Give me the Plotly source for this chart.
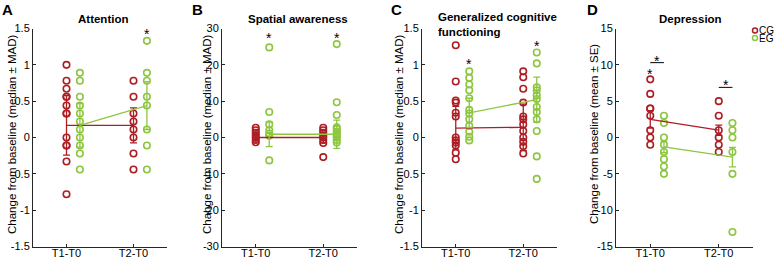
import plotly.graph_objects as go

W, H = 778, 259
CG_COLOR = "#AD1E24"
EG_COLOR = "#8DC63F"
FONT = "Liberation Sans, Arial, sans-serif"

categories = ["T1-T0", "T2-T0"]
cat_pos = [1, 2]
eg_offset = 0.2

# Panel A: Attention
attn_cg_t1 = [1.0, 0.78, 0.67, 0.56, 0.56, 0.44, 0.33, 0.33, 0.0, -0.11, -0.11, -0.33, -0.78]
attn_eg_t1 = [0.89, 0.78, 0.56, 0.44, 0.33, 0.22, 0.11, 0.0, -0.11, -0.22, -0.44]
attn_cg_t2 = [0.78, 0.56, 0.33, 0.22, 0.11, 0.0, -0.22, -0.44]
attn_eg_t2 = [1.33, 0.89, 0.78, 0.56, 0.44, 0.11, -0.11, -0.44]
attn_cg_center = [0.167, 0.167]
attn_cg_spread = [0.41, 0.24]
attn_eg_center = [0.167, 0.44]
attn_eg_spread = [0.30, 0.33]

# Panel B: Spatial awareness
spat_cg_t1 = [2.7, 2.0, 1.3, 0.6, 0.0, -0.7, -1.3]
spat_eg_t1 = [24.8, 7.0, 3.6, 2.0, 1.1, 0.5, -6.3]
spat_cg_t2 = [2.7, 2.0, 1.3, 0.5, 0.0, -0.7, -1.5, -5.4]
spat_eg_t2 = [25.7, 9.7, 6.2, 2.8, 2.3, 1.6, 1.0, 0.4, 0.0, -0.7, -1.4]
spat_cg_center = [0.0, 0.0]
spat_cg_spread = [1.3, 1.5]
spat_eg_center = [0.9, 0.9]
spat_eg_spread = [3.4, 3.9]

# Panel C: Generalized cognitive functioning
gcf_cg_t1 = [1.27, 0.77, 0.51, 0.48, 0.34, 0.29, 0.0, -0.04, -0.07, -0.11, -0.21, -0.30]
gcf_eg_t1 = [0.91, 0.82, 0.73, 0.65, 0.54, 0.38, 0.33, 0.25, 0.16, 0.08, 0.01, -0.04]
gcf_cg_t2 = [0.91, 0.83, 0.67, 0.48, 0.29, 0.25, 0.18, 0.09, 0.0, -0.06, -0.12, -0.22]
gcf_eg_t2 = [1.17, 1.02, 0.69, 0.65, 0.58, 0.53, 0.42, 0.35, 0.25, 0.09, -0.26, -0.57]
gcf_cg_center = [0.13, 0.14]
gcf_cg_spread = [0.30, 0.32]
gcf_eg_center = [0.34, 0.52]
gcf_eg_spread = [0.20, 0.31]

# Panel D: Depression
dep_cg_t1 = [8, 6, 4, 4, 3, 1, 0, -1]
dep_eg_t1 = [3, 2, 0, -1, -2, -3, -4, -5]
dep_cg_t2 = [5, 3, 1, 0, -1, -2]
dep_eg_t2 = [2, 1, 0, -2, -5, -13]
dep_cg_center = [2.5, 1.0]
dep_cg_spread = [1.2, 0.7]
dep_eg_center = [-1.3, -2.7]
dep_eg_spread = [0.8, 1.35]

panels = [
    dict(letter="A", title="Attention", ytitle="Change from baseline (median ± MAD)",
         cg=[attn_cg_t1, attn_cg_t2], eg=[attn_eg_t1, attn_eg_t2],
         cgc=attn_cg_center, cgs=attn_cg_spread, egc=attn_eg_center, egs=attn_eg_spread,
         yrange=[-1.5, 1.5], ytickvals=[-1.5, -1, -0.5, 0, 0.5, 1, 1.5],
         yticktext=["-1.5", "-1", "-0.5", "0", "0.5", "1", "1.5"],
         xdom=[33, 167], title_x=103, title_lines=1, ytitle_x=12,
         stars=[(2 + eg_offset, 1.46)], brackets=[]),
    dict(letter="B", title="Spatial awareness", ytitle="Change from baseline (median ± MAD)",
         cg=[spat_cg_t1, spat_cg_t2], eg=[spat_eg_t1, spat_eg_t2],
         cgc=spat_cg_center, cgs=spat_cg_spread, egc=spat_eg_center, egs=spat_eg_spread,
         yrange=[-30, 30], ytickvals=[-30, -20, -10, 0, 10, 20, 30],
         yticktext=["-30", "-20", "-10", "0", "10", "20", "30"],
         xdom=[222, 357], title_x=298, title_lines=1, ytitle_x=207,
         stars=[(1 + eg_offset, 28.3), (2 + eg_offset, 28.3)], brackets=[]),
    dict(letter="C", title="Generalized cognitive<br>functioning",
         ytitle="Change from baseline (median ± MAD)",
         cg=[gcf_cg_t1, gcf_cg_t2], eg=[gcf_eg_t1, gcf_eg_t2],
         cgc=gcf_cg_center, cgs=gcf_cg_spread, egc=gcf_eg_center, egs=gcf_eg_spread,
         yrange=[-1.5, 1.5], ytickvals=[-1.5, -1, -0.5, 0, 0.5, 1, 1.5],
         yticktext=["-1.5", "-1", "-0.5", "0", "0.5", "1", "1.5"],
         xdom=[422, 557], title_x=436, title_lines=2, ytitle_x=399,
         stars=[(1 + eg_offset, 1.055), (2 + eg_offset, 1.30)], brackets=[]),
    dict(letter="D", title="Depression", ytitle="Change from baseline (mean ± SE)",
         cg=[dep_cg_t1, dep_cg_t2], eg=[dep_eg_t1, dep_eg_t2],
         cgc=dep_cg_center, cgs=dep_cg_spread, egc=dep_eg_center, egs=dep_eg_spread,
         yrange=[-15, 15], ytickvals=[-15, -10, -5, 0, 5, 10, 15],
         yticktext=["-15", "-10", "-5", "0", "5", "10", "15"],
         xdom=[616, 753], title_x=690, title_lines=1, ytitle_x=594,
         stars=[(1, 9.2), (1 + eg_offset / 2, 11.0), (2 + eg_offset / 2, 7.6)],
         brackets=[(1, 1 + eg_offset, 10.3), (2, 2 + eg_offset, 6.9)]),
]

Y_TOP, Y_BOT = 28.5, 246.5
letter_x = [0, 190, 389, 585]

fig = go.Figure()
annotations = []
shapes = []

for i, p in enumerate(panels):
    n = "" if i == 0 else str(i + 1)
    xa, ya = "x" + n, "y" + n
    # individual points
    for grp, color, off in (("cg", CG_COLOR, 0.0), ("eg", EG_COLOR, eg_offset)):
        for k, vals in enumerate(p[grp]):
            fig.add_trace(go.Scatter(
                x=[cat_pos[k] + off] * len(vals), y=vals, mode="markers",
                marker=dict(symbol="circle-open", size=6.5, color=color,
                            line=dict(width=1.6, color=color)),
                xaxis=xa, yaxis=ya, showlegend=False, hoverinfo="y"))
    # summary lines with error bars
    for c, s, color, off in ((p["cgc"], p["cgs"], CG_COLOR, 0.0),
                             (p["egc"], p["egs"], EG_COLOR, eg_offset)):
        fig.add_trace(go.Scatter(
            x=[cp + off for cp in cat_pos], y=c, mode="lines",
            line=dict(color=color, width=1.3),
            error_y=dict(type="data", array=s, visible=True, color=color,
                         thickness=1.3, width=3.5),
            xaxis=xa, yaxis=ya, showlegend=False, hoverinfo="skip"))

    fig.layout["xaxis" + n] = dict(
        domain=[p["xdom"][0] / W, p["xdom"][1] / W], anchor=ya, automargin=False,
        range=[0.5, 2.5], tickvals=cat_pos, ticktext=categories,
        showline=True, linecolor="#262626", linewidth=1, ticks="inside",
        ticklen=3, tickcolor="#262626", showgrid=False, zeroline=False,
        ticklabelstandoff=-4,
        tickfont=dict(family=FONT, size=11, color="#000"), fixedrange=True)
    fig.layout["yaxis" + n] = dict(
        domain=[1 - Y_BOT / H, 1 - Y_TOP / H], anchor=xa, automargin=False,
        range=p["yrange"], tickvals=p["ytickvals"], ticktext=p["yticktext"],
        showline=True, linecolor="#262626", linewidth=1, ticks="inside",
        ticklen=3, tickcolor="#262626", showgrid=False, zeroline=False,
        tickfont=dict(family=FONT, size=11, color="#000"), fixedrange=True)

    # panel letter
    annotations.append(dict(text="<b>" + p["letter"] + "</b>", xref="paper", yref="paper",
                            x=letter_x[i] / W, y=1 + 1 / H, xanchor="left", yanchor="top",
                            showarrow=False, font=dict(family=FONT, size=15, color="#000")))
    # title
    if p["title_lines"] == 1:
        annotations.append(dict(text="<b>" + p["title"] + "</b>", xref="paper", yref="paper",
                                x=p["title_x"] / W, y=1 - 19 / H, xanchor="center",
                                yanchor="middle", showarrow=False,
                                font=dict(family=FONT, size=11.5, color="#000")))
    else:
        annotations.append(dict(text="<b>" + p["title"] + "</b>", xref="paper", yref="paper",
                                x=p["title_x"] / W, y=1 - 24 / H, xanchor="left",
                                yanchor="middle", align="left", showarrow=False,
                                font=dict(family=FONT, size=11.5, color="#000")))
    # y title
    annotations.append(dict(text=p["ytitle"], xref="paper", yref="paper",
                            x=p["ytitle_x"] / W, y=1 - 134 / H, xanchor="center",
                            yanchor="middle", textangle=-90, showarrow=False,
                            font=dict(family=FONT, size=11.5, color="#000")))
    # significance stars
    for sx, sy in p["stars"]:
        annotations.append(dict(text="*", xref=xa, yref=ya, x=sx, y=sy,
                                xanchor="center", yanchor="middle", yshift=-3,
                                showarrow=False,
                                font=dict(family=FONT, size=14, color="#000")))
    for x0, x1, yb in p["brackets"]:
        shapes.append(dict(type="line", xref=xa, yref=ya, x0=x0, x1=x1, y0=yb, y1=yb,
                           line=dict(color="#000", width=1)))

# legend (manual)
legend_items = [("CG", CG_COLOR, 30.5), ("EG", EG_COLOR, 38.0)]
for name, color, ly in legend_items:
    shapes.append(dict(type="circle", xref="paper", yref="paper",
                       x0=(755 - 2.5) / W, x1=(755 + 2.5) / W,
                       y0=1 - (ly + 2.5) / H, y1=1 - (ly - 2.5) / H,
                       line=dict(color=color, width=1.5)))
    annotations.append(dict(text=name, xref="paper", yref="paper", x=758 / W, y=1 - ly / H,
                            xanchor="left", yanchor="middle", showarrow=False,
                            borderpad=0,
                            font=dict(family=FONT, size=10, color="#000")))

fig.update_layout(template="none", width=W, height=H, margin=dict(l=0, r=0, t=0, b=0, pad=0),
                  paper_bgcolor="white", plot_bgcolor="white",
                  annotations=annotations, shapes=shapes, showlegend=False)

fig.write_html("out.html", config={"displayModeBar": False},
               post_script="document.body.style.margin='0';document.body.style.overflow='hidden';")
